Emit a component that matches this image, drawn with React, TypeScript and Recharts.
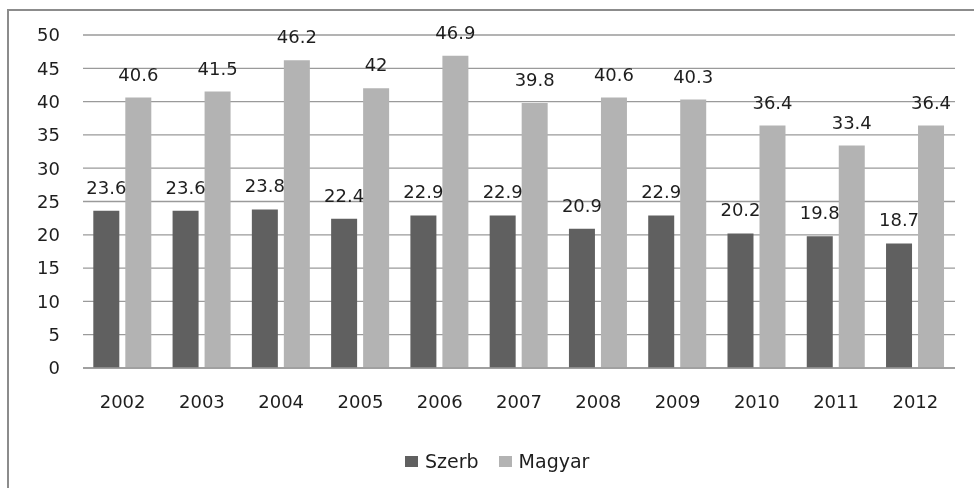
import React from "react";
import { BarChart, Bar, XAxis, YAxis, CartesianGrid, Legend, LabelList } from "recharts";

const years = ["2002", "2003", "2004", "2005", "2006", "2007", "2008", "2009", "2010", "2011", "2012"];
const szerb = [23.6, 23.6, 23.8, 22.4, 22.9, 22.9, 20.9, 22.9, 20.2, 19.8, 18.7];
const magyar = [40.6, 41.5, 46.2, 42, 46.9, 39.8, 40.6, 40.3, 36.4, 33.4, 36.4];
const yTicks = [0, 5, 10, 15, 20, 25, 30, 35, 40, 45, 50];
const seriesOrder = ["Szerb", "Magyar"];

const data = years.map((y, i) => ({ year: y, Szerb: szerb[i], Magyar: magyar[i] }));

const TEXT = "#1e1e1e";
const FONT = "DejaVu Sans";

const LegendBox = (props: any) => {
  const items = [...(props.payload || [])].sort(
    (a: any, b: any) => seriesOrder.indexOf(a.value) - seriesOrder.indexOf(b.value)
  );
  return (
    <div style={{ display: "flex", alignItems: "center", fontFamily: FONT, fontSize: 19, color: TEXT }}>
      {items.map((it: any, i: number) => (
        <div key={i} style={{ display: "flex", alignItems: "center", marginRight: 20 }}>
          <span style={{ display: "inline-block", width: 13, height: 11, background: it.color, marginRight: 7 }} />
          <span>{it.value}</span>
        </div>
      ))}
    </div>
  );
};

export default function App() {
  return (
    <div>
      <div
        style={{
          position: "fixed", left: 7, top: 9, width: 1000, height: 1000,
          borderLeft: "2px solid #8c8c8c", borderTop: "2px solid #8c8c8c",
        }}
      />
      <div style={{ position: "fixed", left: 0, top: 0 }}>
        <BarChart
          width={974}
          height={488}
          data={data}
          margin={{ top: 35, right: 19, left: 23, bottom: 80 }}
          barCategoryGap="13%"
          barGap={6}
          style={{ fontFamily: FONT }}
        >
          <CartesianGrid vertical={false} stroke="#9a9a9a" strokeWidth={1.3} />
          <XAxis
            dataKey="year"
            height={40}
            tickLine={false}
            tickSize={0}
            tickMargin={27}
            axisLine={{ stroke: "#9a9a9a", strokeWidth: 1.3 }}
            tick={{ fill: TEXT, fontSize: 18 }}
          />
          <YAxis
            width={60}
            domain={[0, 50]}
            ticks={yTicks}
            interval={0}
            axisLine={false}
            tickLine={false}
            tickSize={0}
            tickMargin={23}
            tick={{ fill: TEXT, fontSize: 18 }}
          />
          <Legend
            verticalAlign="middle"
            align="center"
            wrapperStyle={{ top: 450, left: 405, width: 320, height: 26 }}
            content={<LegendBox />}
          />
          <Bar dataKey="Szerb" fill="#606060" isAnimationActive={false}>
            <LabelList dataKey="Szerb" position="top" offset={17} fill={TEXT} fontSize={18} />
          </Bar>
          <Bar dataKey="Magyar" fill="#b3b3b3" isAnimationActive={false}>
            <LabelList dataKey="Magyar" position="top" offset={17} fill={TEXT} fontSize={18} />
          </Bar>
        </BarChart>
      </div>
    </div>
  );
}
